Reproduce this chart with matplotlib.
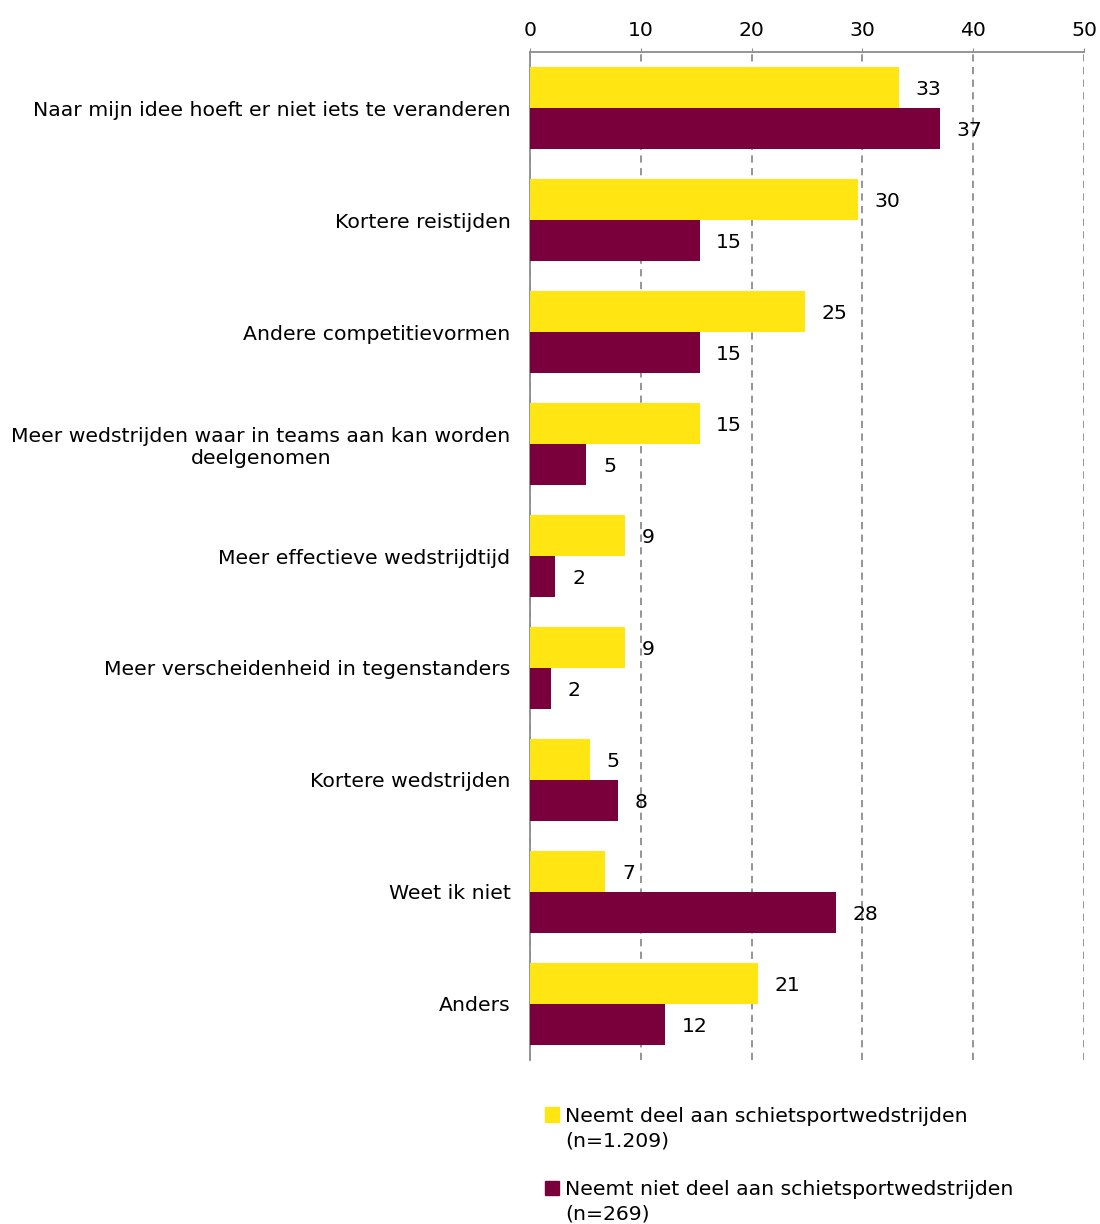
import matplotlib.pyplot as plt
import matplotlib.patches as mpatches
import numpy as np

categories = [
    "Naar mijn idee hoeft er niet iets te veranderen",
    "Kortere reistijden",
    "Andere competitievormen",
    "Meer wedstrijden waar in teams aan kan worden\ndeelgenomen",
    "Meer effectieve wedstrijdtijd",
    "Meer verscheidenheid in tegenstanders",
    "Kortere wedstrijden",
    "Weet ik niet",
    "Anders",
]
deel = [33.3, 29.6, 24.8, 15.3, 8.6, 8.6, 5.4, 6.8, 20.6]
niet_deel = [37.0, 15.3, 15.3, 5.1, 2.3, 1.9, 7.9, 27.6, 12.2]
series_labels = ["Neemt deel aan schietsportwedstrijden", "(n=1.209)",
                 "Neemt niet deel aan schietsportwedstrijden", "(n=269)"]
xticks = [0, 10, 20, 30, 40, 50]

yellow = "#FFE512"
purple = "#7A003C"
gray = "#8C8C8C"
fs = 14.7

plt.rcParams['font.family'] = ['DejaVu Sans']
fig = plt.figure(figsize=(11, 12.24), dpi=100)
ax = fig.add_axes([0.4818, 0.134, 0.50364, 0.8235])

y = np.arange(len(categories))
h = 0.37
b1 = ax.barh(y - h / 2, deel, height=h, color=yellow, zorder=3)
b2 = ax.barh(y + h / 2, niet_deel, height=h, color=purple, zorder=3)

for bars, vals in [(b1, deel), (b2, niet_deel)]:
    for bar, v in zip(bars, vals):
        ax.annotate("{:.0f}".format(v), (bar.get_width(), bar.get_y() + bar.get_height() / 2),
                    xytext=(12, -1.5), textcoords="offset points", va="center", ha="left",
                    fontsize=fs, zorder=4)

ax.set_ylim(len(categories) - 0.5, -0.5)
ax.set_xlim(0, 50)
ax.set_xticks(xticks)
ax.set_yticks(y)
ax.set_yticklabels(categories, fontsize=fs)
for lab in ax.get_yticklabels():
    lab.set_multialignment("center")
ax.xaxis.tick_top()
ax.tick_params(axis="x", labelsize=fs, length=3, color=gray, pad=6)
ax.tick_params(axis="y", length=0, pad=14)

for s in ["right", "bottom"]:
    ax.spines[s].set_visible(False)
for s in ["left", "top"]:
    ax.spines[s].set_color(gray)
    ax.spines[s].set_linewidth(1.3)
ax.grid(axis="x", color=gray, linestyle=(0, (4, 3)), linewidth=1.3, zorder=0)
ax.set_axisbelow(True)

blank = mpatches.Rectangle((0, 0), 1, 1, visible=False)
handles = [mpatches.Patch(color=yellow), blank, blank, mpatches.Patch(color=purple), blank]
labels = [series_labels[0], series_labels[1], " ", series_labels[2], series_labels[3]]
fig.legend(handles, labels, loc="upper left", bbox_to_anchor=(0.488, 0.1025), frameon=False,
           fontsize=fs, handlelength=0.7, handleheight=0.7, handletextpad=0.3,
           labelspacing=0.265, borderaxespad=0)

fig.savefig("out.png", dpi=100)
